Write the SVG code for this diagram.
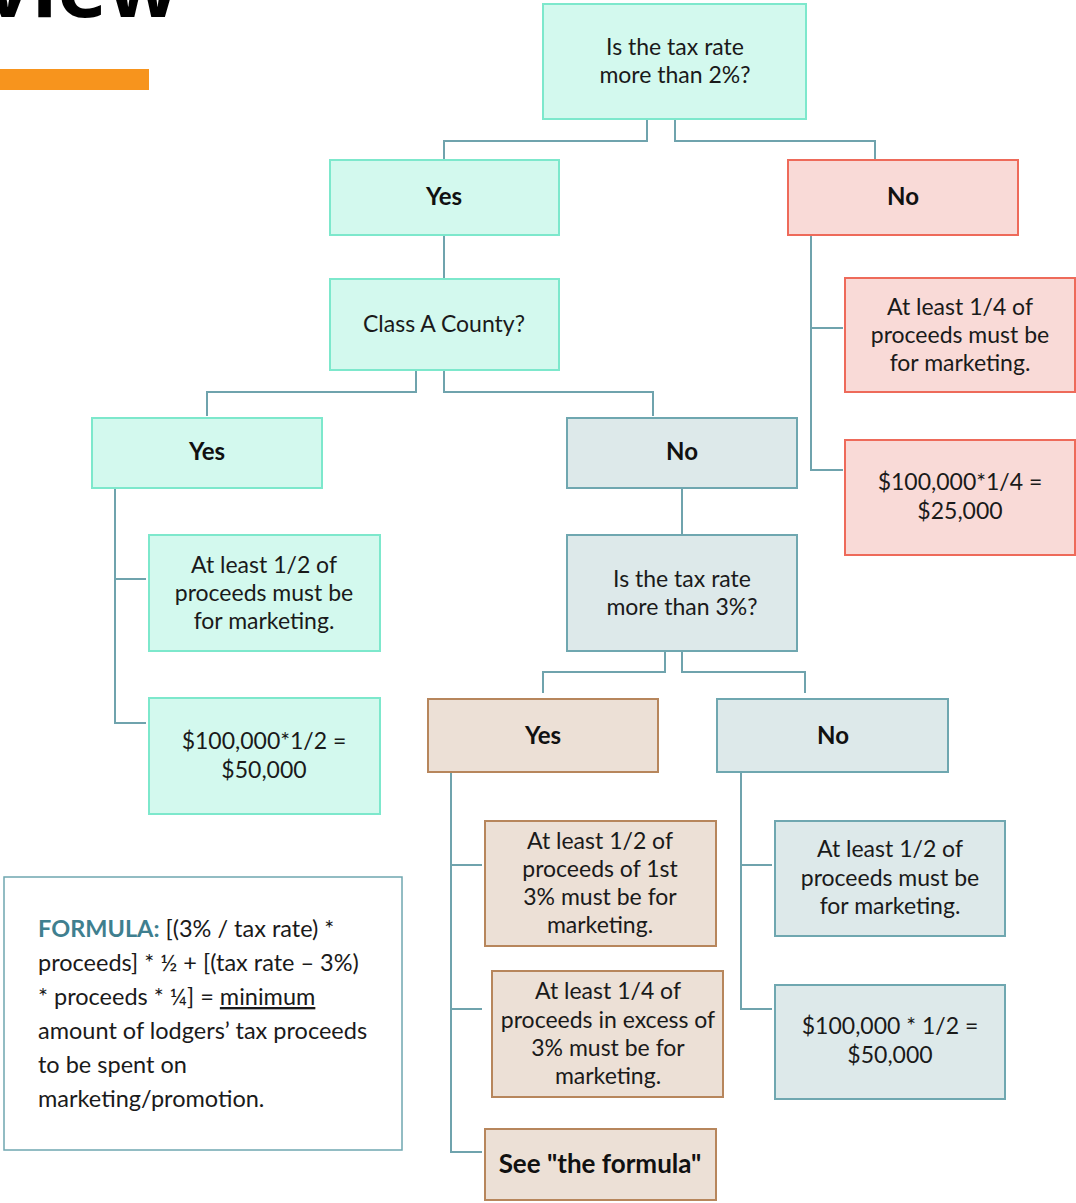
<svg xmlns="http://www.w3.org/2000/svg" width="1076" height="1203" viewBox="0 0 1076 1203">
<style>
  .t { font-family: Lato, "Open Sans", sans-serif; font-size: 23px; fill: #1a1a1a; text-anchor: middle; }
  .b { font-family: Lato, "Open Sans", sans-serif; font-size: 24px; font-weight: bold; fill: #111; text-anchor: middle; }
  .f { font-family: Lato, "Open Sans", sans-serif; font-size: 23.5px; fill: #1a1a1a; }
  .mint { fill: #d3f9ee; stroke: #7de8cc; stroke-width: 2; }
  .pink { fill: #f9dad7; stroke: #ee6a5a; stroke-width: 2; }
  .gray { fill: #dde9ea; stroke: #6fa7b0; stroke-width: 2; }
  .tan { fill: #ece0d6; stroke: #b7865c; stroke-width: 2; }
  .conn path { fill: none; stroke: #6fa3ad; stroke-width: 2; }
</style>
<rect width="1076" height="1203" fill="#ffffff"/>
<text x="-16" y="17" style="font-family: 'Open Sans', sans-serif; font-size: 84px; font-weight: bold; fill: #000;">view</text>
<rect x="0" y="69" width="149" height="21" fill="#f7941d"/>

<g class="conn">
  <path d="M647 119 V141 H444 V160"/>
  <path d="M675 119 V141 H875 V160"/>
  <path d="M444 235 V279"/>
  <path d="M416 370 V392 H207 V416"/>
  <path d="M444 370 V392 H653 V416"/>
  <path d="M115 488 V723 H146"/>
  <path d="M115 579 H146"/>
  <path d="M811 235 V470 H843"/>
  <path d="M811 328 H843"/>
  <path d="M682 488 V535"/>
  <path d="M665 651 V672 H543 V693"/>
  <path d="M682 651 V672 H805 V693"/>
  <path d="M451 772 V1152 H482"/>
  <path d="M451 865 H482"/>
  <path d="M451 1009 H482"/>
  <path d="M741 772 V1009 H772"/>
  <path d="M741 865 H772"/>
</g>

<g id="q1"><rect class="mint" x="543" y="4" width="263" height="115"/>
<text class="t" x="675" y="55">Is the tax rate</text><text class="t" x="675" y="83">more than 2%?</text></g>
<g id="yes1"><rect class="mint" x="330" y="160" width="229" height="75"/><text class="b" x="444" y="205">Yes</text></g>
<g id="no1"><rect class="pink" x="788" y="160" width="230" height="75"/><text class="b" x="903" y="205">No</text></g>
<g id="q2"><rect class="mint" x="330" y="279" width="229" height="91"/><text class="t" x="444" y="332">Class A County?</text></g>
<g id="no1a"><rect class="pink" x="845" y="278" width="230" height="114"/>
<text class="t" x="960" y="315">At least 1/4 of</text><text class="t" x="960" y="343">proceeds must be</text><text class="t" x="960" y="371">for marketing.</text></g>
<g id="no1b"><rect class="pink" x="845" y="440" width="230" height="115"/>
<text class="t" x="960" y="490">$100,000*1/4 =</text><text class="t" x="960" y="519">$25,000</text></g>
<g id="yes2"><rect class="mint" x="92" y="418" width="230" height="70"/><text class="b" x="207" y="460">Yes</text></g>
<g id="no2"><rect class="gray" x="567" y="418" width="230" height="70"/><text class="b" x="682" y="460">No</text></g>
<g id="yes2a"><rect class="mint" x="149" y="535" width="231" height="116"/>
<text class="t" x="264" y="573">At least 1/2 of</text><text class="t" x="264" y="601">proceeds must be</text><text class="t" x="264" y="629">for marketing.</text></g>
<g id="yes2b"><rect class="mint" x="149" y="698" width="231" height="116"/>
<text class="t" x="264" y="749">$100,000*1/2 =</text><text class="t" x="264" y="778">$50,000</text></g>
<g id="q3"><rect class="gray" x="567" y="535" width="230" height="116"/>
<text class="t" x="682" y="587">Is the tax rate</text><text class="t" x="682" y="615">more than 3%?</text></g>
<g id="yes3"><rect class="tan" x="428" y="699" width="230" height="73"/><text class="b" x="543" y="744">Yes</text></g>
<g id="no3"><rect class="gray" x="717" y="699" width="231" height="73"/><text class="b" x="833" y="744">No</text></g>
<g id="yes3a"><rect class="tan" x="485" y="821" width="231" height="125"/>
<text class="t" x="600" y="849">At least 1/2 of</text><text class="t" x="600" y="877">proceeds of 1st</text><text class="t" x="600" y="905">3% must be for</text><text class="t" x="600" y="933">marketing.</text></g>
<g id="yes3b"><rect class="tan" x="492" y="971" width="231" height="126"/>
<text class="t" x="608" y="999">At least 1/4 of</text><text class="t" x="608" y="1028">proceeds in excess of</text><text class="t" x="608" y="1056">3% must be for</text><text class="t" x="608" y="1084">marketing.</text></g>
<g id="yes3c"><rect class="tan" x="485" y="1129" width="231" height="71"/><text class="b" x="600" y="1173" style="font-size: 26px;">See "the formula"</text></g>
<g id="no3a"><rect class="gray" x="775" y="821" width="230" height="115"/>
<text class="t" x="890" y="857">At least 1/2 of</text><text class="t" x="890" y="886">proceeds must be</text><text class="t" x="890" y="914">for marketing.</text></g>
<g id="no3b"><rect class="gray" x="775" y="985" width="230" height="114"/>
<text class="t" x="890" y="1034">$100,000 * 1/2 =</text><text class="t" x="890" y="1063">$50,000</text></g>

<g id="formula"><rect x="4" y="877" width="398" height="273" fill="#ffffff" stroke="#6fa7b0" stroke-width="1.5"/>
<text class="f" x="38" y="937"><tspan font-weight="bold" fill="#3f7f8f">FORMULA:</tspan> [(3% / tax rate) *</text>
<text class="f" x="38" y="971">proceeds] * ½ + [(tax rate – 3%)</text>
<text class="f" x="38" y="1005">* proceeds * ¼]  = <tspan text-decoration="underline">minimum</tspan></text>
<text class="f" x="38" y="1039">amount of lodgers’ tax proceeds</text>
<text class="f" x="38" y="1073">to be spent on</text>
<text class="f" x="38" y="1107">marketing/promotion.</text>
</g>
</svg>
